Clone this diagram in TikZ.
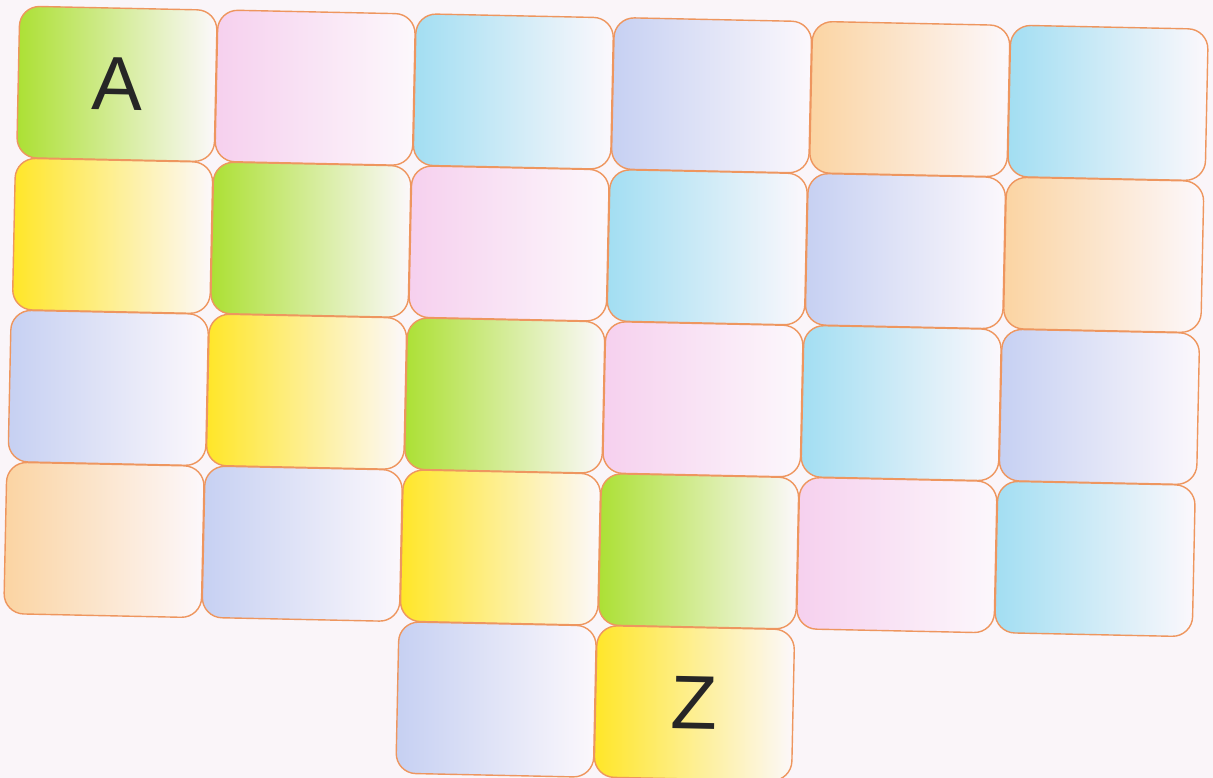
\documentclass[tikz,border=0pt]{standalone}
\usepackage{fontspec}
\setmainfont{Liberation Sans}
\definecolor{paper}{RGB}{250,245,249}
\definecolor{edge}{RGB}{238,150,95}
\definecolor{cgreen}{RGB}{172,224,52}
\definecolor{cyellow}{RGB}{255,230,40}
\definecolor{cpink}{RGB}{246,208,238}
\definecolor{ccyan}{RGB}{162,222,242}
\definecolor{clav}{RGB}{198,208,242}
\definecolor{cpeach}{RGB}{251,212,162}
\definecolor{cwhite}{RGB}{252,248,252}
\begin{document}
\begin{tikzpicture}[x=1pt,y=1pt,
  cell/.style={draw=edge, line width=1.4pt, rounded corners=20pt,
    minimum width=197.5pt, minimum height=151.5pt, inner sep=0pt,
    rotate=-1.2, right color=cwhite,
    font=\fontsize{76}{76}\selectfont, text=black!85}]
\fill[paper] (0,0) rectangle (1213,-778);
\useasboundingbox (0,0) rectangle (1213,-778);
\foreach \i/\j/\c/\t in {
  0/0/cgreen/A, 0/1/cpink/{}, 0/2/ccyan/{}, 0/3/clav/{}, 0/4/cpeach/{}, 0/5/ccyan/{},
  1/0/cyellow/{}, 1/1/cgreen/{}, 1/2/cpink/{}, 1/3/ccyan/{}, 1/4/clav/{}, 1/5/cpeach/{},
  2/0/clav/{}, 2/1/cyellow/{}, 2/2/cgreen/{}, 2/3/cpink/{}, 2/4/ccyan/{}, 2/5/clav/{},
  3/0/cpeach/{}, 3/1/clav/{}, 3/2/cyellow/{}, 3/3/cgreen/{}, 3/4/cpink/{}, 3/5/ccyan/{},
  4/2/clav/{}, 4/3/cyellow/Z} {
  \pgfmathsetmacro\px{116.95+198.2*\j-4.3*\i}
  \pgfmathsetmacro\py{-(83.9+3.8*\j+152*\i)}
  \node[cell, left color=\c] (c\i\j) at (\px,\py) {\t};
}
\end{tikzpicture}
\end{document}
